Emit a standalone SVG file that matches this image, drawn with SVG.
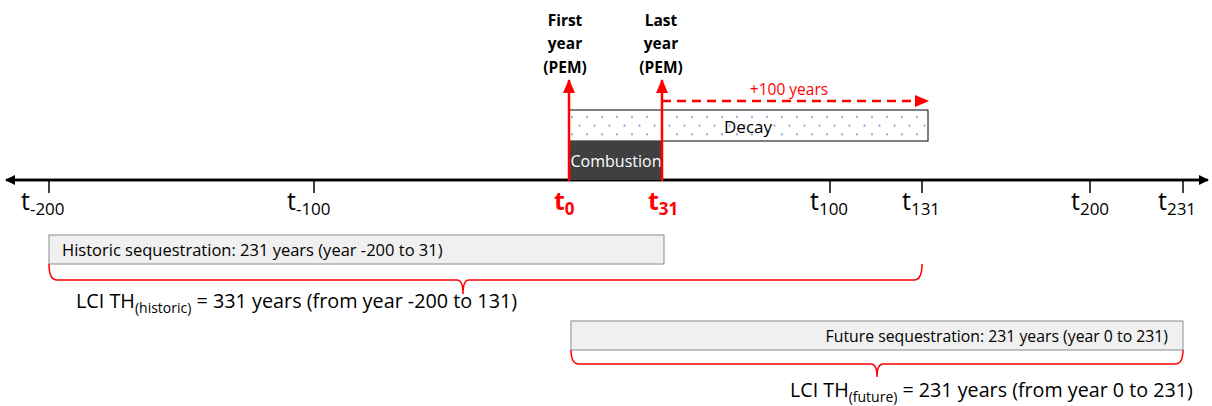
<svg xmlns="http://www.w3.org/2000/svg" width="1212" height="406" viewBox="0 0 1212 406">
<style>
text{font-family:"Open Sans","Liberation Sans",sans-serif;fill:#000}
.tl{font-size:25px}
.sub{font-size:17px}
.red{fill:#ff0000}
.b{font-weight:bold}
.ax{stroke:#000;stroke-width:2.5;fill:none}
.tk{stroke:#000;stroke-width:1.5}
.rl{stroke:#ff0000;stroke-width:2.5;fill:none}
.br{stroke:#ff0000;stroke-width:1.5;fill:none}
.bar{fill:#f0f0f0;stroke:#8c8c8c;stroke-width:1}
.hd{font-size:15.5px;font-weight:bold}
</style>
<defs>
<marker id="ah" markerWidth="10" markerHeight="10" refX="9" refY="5" orient="auto" markerUnits="userSpaceOnUse"><path d="M0,0 L10,5 L0,10 Z" fill="#000"/></marker>
<marker id="rh" markerWidth="14" markerHeight="14" refX="13" refY="7" orient="auto" markerUnits="userSpaceOnUse"><path d="M0,1 L14,7 L0,13 Z" fill="#ff0000"/></marker>
<pattern id="dots" width="15" height="17.4" patternUnits="userSpaceOnUse" x="569" y="110">
<rect width="15" height="17.4" fill="#fff"/>
<circle cx="3" cy="7" r="1.1" fill="#8aa6dc"/>
<circle cx="10.5" cy="15.7" r="1.1" fill="#8aa6dc"/>
</pattern>
</defs>
<g id="connectors">
<line class="ax" x1="12" y1="180" x2="1208" y2="180" marker-end="url(#ah)"/>
<line class="ax" x1="1200" y1="180" x2="6" y2="180" marker-end="url(#ah)"/>
<line class="tk" x1="49" y1="181" x2="49" y2="193"/>
<line class="tk" x1="314" y1="181" x2="314" y2="193"/>
<line class="tk" x1="830" y1="181" x2="830" y2="193"/>
<line class="tk" x1="922" y1="181" x2="922" y2="193"/>
<line class="tk" x1="1090" y1="181" x2="1090" y2="193"/>
<line class="tk" x1="1183" y1="181" x2="1183" y2="193"/>
</g>
<g id="decay">
<rect x="569" y="110" width="359" height="31" fill="url(#dots)" stroke="#000" stroke-width="1"/>
<text x="748" y="133" font-size="17" text-anchor="middle">Decay</text>
</g>
<g id="combustion">
<rect x="569" y="141" width="93" height="39" fill="#404040"/>
<text x="616" y="167" font-size="16" text-anchor="middle" style="fill:#fff">Combustion</text>
</g>
<g id="red-arrows">
<line class="rl" x1="569" y1="181" x2="569" y2="80" marker-end="url(#rh)"/>
<line class="rl" x1="662" y1="181" x2="662" y2="80" marker-end="url(#rh)"/>
<line class="rl" x1="662" y1="101" x2="928" y2="101" stroke-dasharray="9,6" marker-end="url(#rh)"/>
<text x="789" y="95" font-size="15.5" text-anchor="middle" class="red">+100 years</text>
</g>
<g id="first-year">
<text x="565" y="26" class="hd" text-anchor="middle">First</text>
<text x="565" y="49" class="hd" text-anchor="middle">year</text>
<text x="565" y="73" class="hd" text-anchor="middle">(PEM)</text>
</g>
<g id="last-year">
<text x="661" y="26" class="hd" text-anchor="middle">Last</text>
<text x="661" y="49" class="hd" text-anchor="middle">year</text>
<text x="661" y="73" class="hd" text-anchor="middle">(PEM)</text>
</g>
<g id="tick-labels">
<text x="21" y="210" class="tl">t<tspan class="sub" dy="5">-200</tspan></text>
<text x="287" y="210" class="tl">t<tspan class="sub" dy="5">-100</tspan></text>
<text x="554" y="210" class="tl b red">t<tspan class="sub" dy="5" style="font-weight:bold">0</tspan></text>
<text x="648" y="210" class="tl b red">t<tspan class="sub" dy="5" style="font-weight:bold">31</tspan></text>
<text x="810" y="210" class="tl">t<tspan class="sub" dy="5">100</tspan></text>
<text x="902" y="210" class="tl">t<tspan class="sub" dy="5">131</tspan></text>
<text x="1071" y="210" class="tl">t<tspan class="sub" dy="5">200</tspan></text>
<text x="1158" y="210" class="tl">t<tspan class="sub" dy="5">231</tspan></text>
</g>
<g id="historic">
<rect class="bar" x="49" y="235" width="615" height="29"/>
<text x="62" y="256" font-size="16.5">Historic sequestration: 231 years (year -200 to 31)</text>
<path class="br" d="M49,264 Q49,280 57,280 L457,280 Q463,280 463,294 Q463,280 469,280 L914,280 Q922,280 922,264"/>
<text x="76" y="308" font-size="19.8">LCI TH<tspan font-size="14" dy="5">(historic)</tspan><tspan dy="-5"> = 331 years (from year -200 to 131)</tspan></text>
</g>
<g id="future">
<rect class="bar" x="571" y="321" width="612" height="29"/>
<text x="1168" y="342" font-size="15.8" text-anchor="end">Future sequestration: 231 years (year 0 to 231)</text>
<path class="br" d="M571,350 Q571,364 579,364 L871,364 Q877,364 877,377 Q877,364 883,364 L1175,364 Q1183,364 1183,350"/>
<text x="790" y="397" font-size="19.7">LCI TH<tspan font-size="14" dy="5">(future)</tspan><tspan dy="-5"> = 231 years (from year 0 to 231)</tspan></text>
</g>
</svg>
